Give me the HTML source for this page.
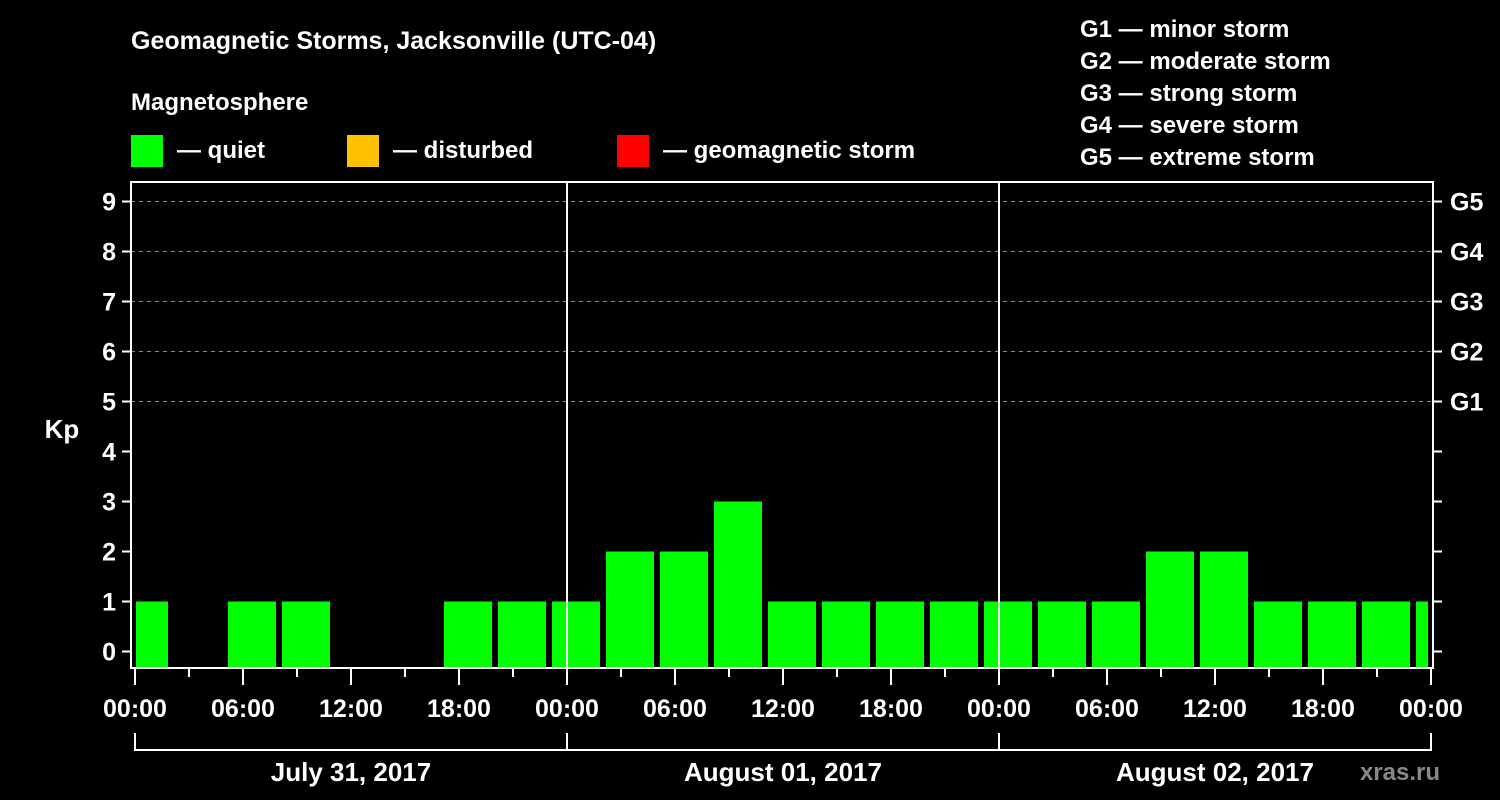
<!DOCTYPE html>
<html><head><meta charset="utf-8"><style>
body{margin:0;background:#000;}
svg{display:block;font-family:"Liberation Sans",Arial,sans-serif;font-weight:bold;}
</style></head><body>
<svg id="c" width="1500" height="800" viewBox="0 0 1500 800">
<rect width="1500" height="800" fill="#000"/>
<text x="131" y="49" fill="#fff" font-size="25">Geomagnetic Storms, Jacksonville (UTC-04)</text>
<text x="131" y="110" fill="#fff" font-size="24">Magnetosphere</text>
<g><rect x="131" y="135" width="32" height="32" fill="#00ff00"/><text x="177" y="158" fill="#fff" font-size="24">— quiet</text></g>
<g><rect x="347" y="135" width="32" height="32" fill="#ffc000"/><text x="393" y="158" fill="#fff" font-size="24">— disturbed</text></g>
<g><rect x="617" y="135" width="32" height="32" fill="#ff0000"/><text x="663" y="158" fill="#fff" font-size="24">— geomagnetic storm</text></g>
<g fill="#fff" font-size="24">
<text x="1080" y="37">G1 — minor storm</text><text x="1080" y="69">G2 — moderate storm</text><text x="1080" y="101">G3 — strong storm</text><text x="1080" y="133">G4 — severe storm</text><text x="1080" y="165">G5 — extreme storm</text>
</g>
<text x="62" y="438" fill="#fff" font-size="26" text-anchor="middle">Kp</text>
<text x="1440" y="780" fill="#888" font-size="24" text-anchor="end">xras.ru</text>
<g id="g"></g>
</svg>
<script>
const kpValues=[1,0,1,1,0,0,1,1,1,2,2,3,1,1,1,1,1,1,1,2,2,1,1,1,1];
const yTicks=[0,1,2,3,4,5,6,7,8,9];
const gLabels=["G1","G2","G3","G4","G5"];
const hourLabels=["00:00","06:00","12:00","18:00","00:00","06:00","12:00","18:00","00:00","06:00","12:00","18:00","00:00"];
const dayLabels=["July 31, 2017","August 01, 2017","August 02, 2017"];
const NS="http://www.w3.org/2000/svg";
const g=document.getElementById('g');
const L=131,R=1433,T=182,B=668;
const x=h=>135+h*18;
const y=v=>651.5-v*50;
function el(t,a,txt){const e=document.createElementNS(NS,t);for(const k in a)e.setAttribute(k,a[k]);if(txt!=null)e.textContent=txt;g.appendChild(e);return e;}
yTicks.forEach(v=>{
 if(v>=5){const e=el('line',{x1:L,x2:R,y1:y(v),y2:y(v),stroke:'#888','stroke-dasharray':'4,4'});}
 el('line',{x1:122,x2:L,y1:y(v),y2:y(v),stroke:'#fff','stroke-width':2});
 el('line',{x1:R,x2:1442,y1:y(v),y2:y(v),stroke:'#fff','stroke-width':2});
 const t=el('text',{x:116,y:y(v)+9,fill:'#fff','font-size':25,'text-anchor':'end'},v);
 
});
gLabels.forEach((s,i)=>{const t=el('text',{x:1450,y:y(5+i)+9,fill:'#fff','font-size':25},s);
 });
kpValues.forEach((v,k)=>{
 if(v<=0)return;
 const s=x(3*k-1);let x0=Math.max(s+3,136),x1=Math.min(s+51,1428);
 const col=v>=5?'#ff0000':(v>=4?'#ffc000':'#00ff00');
 const r=el('rect',{x:x0,y:y(v),width:x1-x0,height:B-y(v),fill:col});
 
});
el('rect',{x:L,y:T,width:R-L,height:B-T,fill:'none',stroke:'#fff','stroke-width':2});
[24,48].forEach(h=>el('line',{x1:x(h),x2:x(h),y1:T,y2:B,stroke:'#fff','stroke-width':2}));
for(let h=0;h<=72;h+=3){const maj=h%6===0;el('line',{x1:x(h),x2:x(h),y1:B,y2:maj?685:677,stroke:'#fff','stroke-width':2});}
hourLabels.forEach((s,i)=>{const t=el('text',{x:x(i*6),y:717,fill:'#fff','font-size':25,'text-anchor':'middle'},s);
 });
el('polyline',{points:`${x(0)},733 ${x(0)},750 ${x(72)},750 ${x(72)},733`,fill:'none',stroke:'#fff','stroke-width':2});
[24,48].forEach(h=>el('line',{x1:x(h),x2:x(h),y1:733,y2:750,stroke:'#fff','stroke-width':2}));
dayLabels.forEach((s,i)=>{const t=el('text',{x:x(i*24+12),y:781,fill:'#fff','font-size':26,'text-anchor':'middle'},s);
 });
</script>
</body></html>
